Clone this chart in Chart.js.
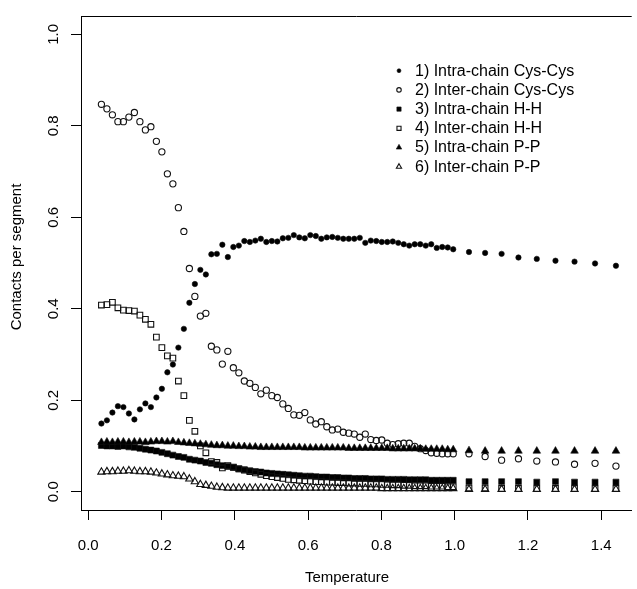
<!DOCTYPE html>
<html>
<head>
<meta charset="utf-8">
<script src="https://cdn.jsdelivr.net/npm/chart.js"></script>
<style>
  html, body { margin: 0; padding: 0; background: #fff; }
  #plot { display: block; }
</style>
</head>
<body>
<canvas id="plot" width="637" height="589"></canvas>
<script>
// Temperatures (x): a fine ladder up to 1.0, then a sparser tail
const temperature = [
  0.036, 0.051, 0.066, 0.081, 0.096, 0.111, 0.126, 0.141, 0.156, 0.171,
  0.186, 0.201, 0.216, 0.231, 0.246, 0.261, 0.276, 0.291, 0.306, 0.321,
  0.336, 0.351, 0.366, 0.381, 0.396, 0.411, 0.426, 0.441, 0.456, 0.471,
  0.486, 0.501, 0.516, 0.531, 0.546, 0.561, 0.576, 0.591, 0.606, 0.621,
  0.636, 0.651, 0.666, 0.681, 0.696, 0.711, 0.726, 0.741, 0.756, 0.771,
  0.786, 0.801, 0.816, 0.831, 0.846, 0.861, 0.876, 0.891, 0.906, 0.921,
  0.936, 0.951, 0.966, 0.981, 0.996,
  1.039, 1.083, 1.128, 1.174, 1.224, 1.275, 1.327, 1.383, 1.440
];

// 1) Intra-chain Cys-Cys
const intraCys = [
  0.149, 0.156, 0.173, 0.187, 0.185, 0.171, 0.158, 0.180, 0.193, 0.185,
  0.206, 0.225, 0.261, 0.278, 0.315, 0.356, 0.413, 0.454, 0.485, 0.475,
  0.519, 0.520, 0.540, 0.513, 0.535, 0.538, 0.548, 0.546, 0.549, 0.553,
  0.546, 0.548, 0.547, 0.554, 0.555, 0.561, 0.556, 0.554, 0.561, 0.559,
  0.553, 0.556, 0.557, 0.555, 0.553, 0.553, 0.553, 0.555, 0.544, 0.549,
  0.548, 0.546, 0.546, 0.547, 0.544, 0.541, 0.538, 0.541, 0.541, 0.538,
  0.541, 0.533, 0.535, 0.534, 0.530,
  0.524, 0.522, 0.520, 0.512, 0.509, 0.505, 0.503, 0.499, 0.494
];

// 2) Inter-chain Cys-Cys
const interCys = [
  0.847, 0.837, 0.824, 0.809, 0.809, 0.819, 0.829, 0.809, 0.791, 0.798,
  0.766, 0.743, 0.695, 0.673, 0.621, 0.569, 0.488, 0.427, 0.384, 0.390,
  0.318, 0.310, 0.279, 0.307, 0.271, 0.260, 0.242, 0.237, 0.228, 0.214,
  0.222, 0.210, 0.206, 0.192, 0.182, 0.168, 0.167, 0.173, 0.157, 0.148,
  0.153, 0.142, 0.135, 0.137, 0.130, 0.128, 0.126, 0.119, 0.126, 0.114,
  0.112, 0.113, 0.106, 0.103, 0.105, 0.106, 0.106, 0.099, 0.094, 0.090,
  0.085, 0.084, 0.083, 0.083, 0.083,
  0.083, 0.077, 0.069, 0.072, 0.067, 0.065, 0.060, 0.062, 0.056
];

// 3) Intra-chain H-H
const intraHH = [
  0.101, 0.100, 0.100, 0.099, 0.100, 0.098, 0.097, 0.095, 0.093, 0.091,
  0.089, 0.086, 0.083, 0.080, 0.077, 0.075, 0.071, 0.069, 0.067, 0.064,
  0.062, 0.059, 0.057, 0.055, 0.053, 0.050, 0.048, 0.046, 0.044, 0.043,
  0.041, 0.040, 0.039, 0.038, 0.037, 0.036, 0.035, 0.034, 0.034, 0.033,
  0.032, 0.032, 0.031, 0.031, 0.030, 0.030, 0.029, 0.029, 0.029, 0.028,
  0.028, 0.028, 0.027, 0.027, 0.027, 0.027, 0.026, 0.026, 0.026, 0.026,
  0.025, 0.025, 0.025, 0.025, 0.025,
  0.022, 0.022, 0.022, 0.022, 0.021, 0.022, 0.021, 0.021, 0.021
];

// 4) Inter-chain H-H
const interHH = [
  0.408, 0.409, 0.414, 0.402, 0.397, 0.396, 0.395, 0.386, 0.377, 0.366,
  0.338, 0.315, 0.297, 0.292, 0.242, 0.210, 0.156, 0.132, 0.100, 0.085,
  0.066, 0.064, 0.052, 0.057, 0.054, 0.050, 0.047, 0.044, 0.041, 0.038,
  0.035, 0.033, 0.031, 0.029, 0.027, 0.026, 0.025, 0.024, 0.023, 0.022,
  0.022, 0.021, 0.021, 0.020, 0.020, 0.019, 0.019, 0.018, 0.018, 0.017,
  0.017, 0.016, 0.016, 0.015, 0.015, 0.014, 0.014, 0.013, 0.013, 0.013,
  0.012, 0.012, 0.012, 0.011, 0.011,
  0.008, 0.008, 0.007, 0.007, 0.007, 0.007, 0.007, 0.007, 0.007
];

// 5) Intra-chain P-P
const intraPP = [
  0.108, 0.109, 0.108, 0.109, 0.109, 0.108, 0.109, 0.109, 0.108, 0.109,
  0.110, 0.110, 0.109, 0.110, 0.108, 0.107, 0.106, 0.105, 0.104, 0.103,
  0.102, 0.101, 0.101, 0.100, 0.100, 0.099, 0.099, 0.098, 0.098, 0.097,
  0.097, 0.097, 0.097, 0.097, 0.097, 0.097, 0.097, 0.096, 0.096, 0.096,
  0.096, 0.096, 0.096, 0.096, 0.096, 0.095, 0.095, 0.095, 0.095, 0.095,
  0.095, 0.095, 0.095, 0.094, 0.094, 0.094, 0.094, 0.094, 0.094, 0.093,
  0.093, 0.093, 0.093, 0.092, 0.092,
  0.090, 0.089, 0.089, 0.089, 0.089, 0.089, 0.089, 0.089, 0.089
];

// 6) Inter-chain P-P
const interPP = [
  0.043, 0.044, 0.044, 0.045, 0.045, 0.046, 0.045, 0.044, 0.044, 0.043,
  0.041, 0.039, 0.037, 0.035, 0.034, 0.033, 0.028, 0.022, 0.016, 0.014,
  0.012, 0.010, 0.009, 0.008, 0.008, 0.008, 0.008, 0.008, 0.008, 0.008,
  0.008, 0.008, 0.008, 0.008, 0.008, 0.008, 0.008, 0.008, 0.008, 0.008,
  0.008, 0.008, 0.008, 0.008, 0.008, 0.008, 0.008, 0.008, 0.008, 0.008,
  0.008, 0.007, 0.007, 0.007, 0.007, 0.007, 0.007, 0.007, 0.007, 0.007,
  0.007, 0.007, 0.007, 0.007, 0.007,
  0.005, 0.005, 0.005, 0.005, 0.005, 0.005, 0.005, 0.005, 0.005
];

const seriesLabels = [
  '1) Intra-chain Cys-Cys',
  '2) Inter-chain Cys-Cys',
  '3) Intra-chain H-H',
  '4) Inter-chain H-H',
  '5) Intra-chain P-P',
  '6) Inter-chain P-P'
];
const xTicks = [0, 0.2, 0.4, 0.6, 0.8, 1.0, 1.2, 1.4];
const yTicks = [0, 0.2, 0.4, 0.6, 0.8, 1.0];

const FONT = "'Liberation Sans', Arial, Helvetica, sans-serif";
Chart.defaults.font.family = FONT;
Chart.defaults.font.size = 15;
Chart.defaults.color = '#000';

function points(values) {
  return values.map((v, i) => ({ x: temperature[i], y: v }));
}

// marker looks: R pch 19, 1, 15, 0, 17, 2
const markers = [
  { style: 'circle',   radius: 2.7, fill: '#000',        border: 0.6 },
  { style: 'circle',   radius: 3.1, fill: 'rgba(0,0,0,0)', border: 1.1 },
  { style: 'rect',     radius: 4.2, fill: '#000',        border: 0.6 },
  { style: 'rect',     radius: 4.0, fill: 'rgba(0,0,0,0)', border: 1.1 },
  { style: 'triangle', radius: 4.4, fill: '#000',        border: 0.6 },
  { style: 'triangle', radius: 4.2, fill: 'rgba(0,0,0,0)', border: 1.1 }
];
const seriesValues = [intraCys, interCys, intraHH, interHH, intraPP, interPP];

const datasets = seriesValues.map((vals, i) => ({
  label: seriesLabels[i],
  data: points(vals),
  pointStyle: markers[i].style,
  pointRadius: markers[i].radius,
  pointBackgroundColor: markers[i].fill,
  pointBorderColor: '#111',
  pointBorderWidth: markers[i].border,
  showLine: false,
  order: 6 - i   // later series painted on top, like successive points() calls
}));

function tickLabel(v) { return Number(v).toFixed(1); }

function drawMarker(ctx, m, x, y, scale) {
  ctx.save();
  ctx.fillStyle = m.fill;
  ctx.strokeStyle = '#111';
  ctx.lineWidth = m.border;
  const opts = { pointStyle: m.style, radius: m.radius * scale, rotation: 0, borderWidth: m.border };
  if (Chart.helpers && Chart.helpers.drawPoint) {
    Chart.helpers.drawPoint(ctx, opts, x, y);
  } else {
    const r = m.radius * scale;
    ctx.beginPath();
    if (m.style === 'circle') ctx.arc(x, y, r, 0, Math.PI * 2);
    else if (m.style === 'rect') ctx.rect(x - r * 0.707, y - r * 0.707, r * 1.414, r * 1.414);
    else { ctx.moveTo(x, y - r); ctx.lineTo(x + r * 0.866, y + r / 2); ctx.lineTo(x - r * 0.866, y + r / 2); ctx.closePath(); }
    ctx.fill();
    if (m.border > 0) ctx.stroke();
  }
  ctx.restore();
}

const framePlugin = {
  id: 'frame',
  afterDraw(chart) {
    const ctx = chart.ctx;
    const a = chart.chartArea;
    ctx.save();
    // top edge of the plot box
    ctx.strokeStyle = '#000';
    ctx.lineWidth = 1;
    ctx.beginPath();
    ctx.moveTo(a.left, a.top + 0.5);
    ctx.lineTo(a.right, a.top + 0.5);
    ctx.stroke();

    // axis titles
    ctx.fillStyle = '#000';
    ctx.font = '15px ' + FONT;
    ctx.textAlign = 'center';
    ctx.textBaseline = 'middle';
    ctx.fillText('Temperature', 347, 578);
    ctx.save();
    ctx.translate(17, 257);
    ctx.rotate(-Math.PI / 2);
    ctx.fillText('Contacts per segment', 0, 0);
    ctx.restore();

    // legend inside the plot
    ctx.font = '16px ' + FONT;
    ctx.textAlign = 'left';
    chart.data.datasets.forEach((ds, i) => {
      const y = 70.7 + 19.2 * i;
      drawMarker(ctx, markers[i], 399, y, 0.72);
      ctx.fillStyle = '#000';
      ctx.fillText(ds.label, 415, y + 0.5);
    });
    ctx.restore();
  }
};

new Chart(document.getElementById('plot'), {
  type: 'scatter',
  data: { datasets },
  options: {
    responsive: false,
    animation: false,
    devicePixelRatio: 1,
    layout: { padding: { top: 8, right: 0, bottom: 0, left: 0 } },
    plugins: {
      legend: { display: false },
      tooltip: { enabled: false }
    },
    scales: {
      x: {
        type: 'linear',
        min: -0.0197,
        max: 1.483,
        afterBuildTicks: s => { s.ticks = xTicks.map(v => ({ value: v })); },
        afterFit: s => { s.height = 79; },
        ticks: { maxRotation: 0, padding: 17, callback: tickLabel },
        grid: { drawOnChartArea: false, tickLength: 10, color: '#000', lineWidth: 1 },
        border: { color: '#000', width: 1 }
      },
      y: {
        type: 'linear',
        min: -0.04,
        max: 1.04,
        afterBuildTicks: s => { s.ticks = yTicks.map(v => ({ value: v })); },
        afterFit: s => { s.width = 81; },
        ticks: { minRotation: 90, maxRotation: 90, crossAlign: 'center', padding: 7, callback: tickLabel },
        grid: { drawOnChartArea: false, tickLength: 10, color: '#000', lineWidth: 1 },
        border: { color: '#000', width: 1 }
      }
    }
  },
  plugins: [framePlugin]
});
</script>
</body>
</html>
